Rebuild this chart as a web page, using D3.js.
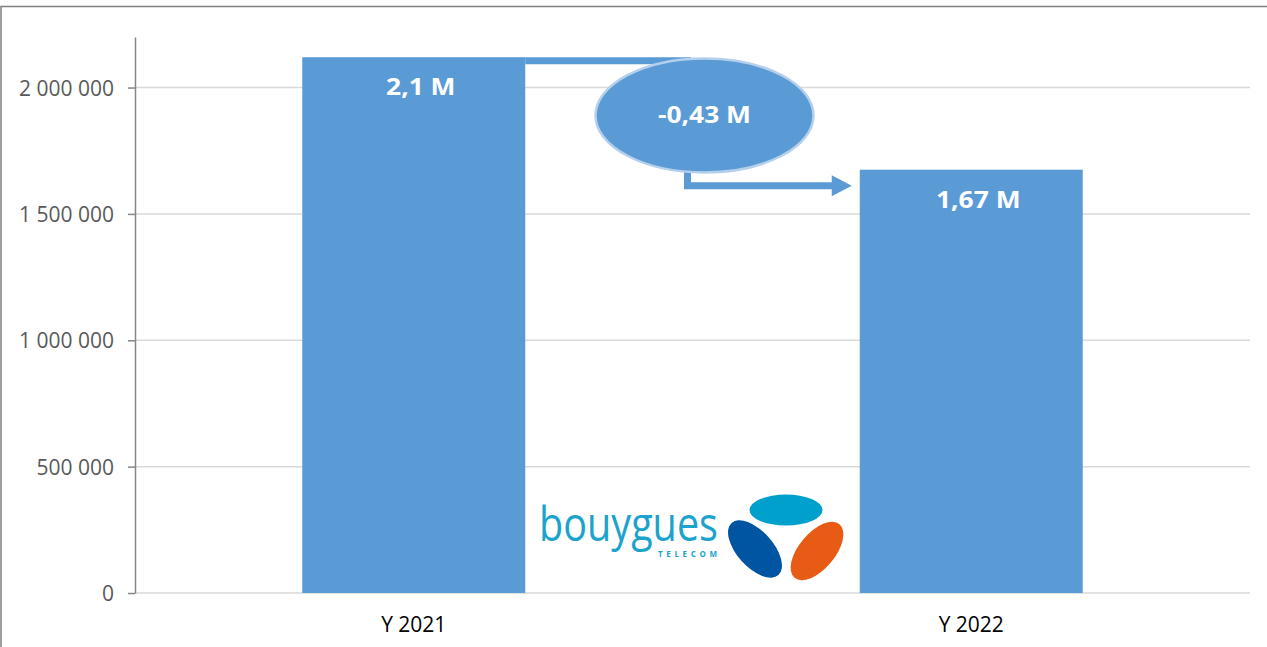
<!DOCTYPE html>
<html>
<head>
    <meta charset="UTF-8">
    <title>Bouygues Telecom - Y 2021 / Y 2022</title>
    <style>
        body {
            margin: 0;
            padding: 0;
            background-color: #ffffff;
            overflow: hidden;
        }
        text {
            font-family: "Open Sans", "Noto Sans", sans-serif;
        }
        .grid line {
            stroke: #d9d9d9;
            stroke-width: 1.5px;
        }
        .cat-label {
            fill: #000000;
            font-size: 21px;
            text-anchor: middle;
        }
        .bar {
            fill: #5b9bd5;
        }
        .bar-label {
            fill: #ffffff;
            font-size: 24px;
            font-weight: 700;
            text-anchor: middle;
        }
    </style>
    <script src="https://d3js.org/d3.v7.min.js"></script>
</head>
<body>
    <div id="chart"></div>

    <script>
        // data
        var categories = ["Y 2021", "Y 2022"];
        var values = [2120000, 1675000];
        var valueLabels = ["2,1 M", "1,67 M"];
        var deltaLabel = "-0,43 M";
        var yTicks = [0, 500000, 1000000, 1500000, 2000000];
        var yMax = 2200000;

        var W = 1267, H = 647;
        var plot = {left: 135, right: 1250, top: 37, bottom: 593};
        var blue = "#5b9bd5";

        var svg = d3.select("#chart").append("svg")
            .attr("width", W)
            .attr("height", H);

        // outer frame
        svg.append("rect")
            .attr("x", 1).attr("y", 6.5)
            .attr("width", W + 20).attr("height", H + 20)
            .attr("fill", "none")
            .attr("stroke", "#7f7f7f")
            .attr("stroke-width", 1.5);

        var x = d3.scaleBand()
            .domain(categories)
            .range([plot.left, plot.right])
            .paddingInner(0.6)
            .paddingOuter(0.3);

        var y = d3.scaleLinear()
            .domain([0, yMax])
            .range([plot.bottom, plot.top]);

        var fmt = d3.formatLocale({decimal: ",", thousands: " ", grouping: [3], currency: ["", ""]}).format(",");

        // gridlines
        svg.append("g")
            .attr("class", "grid")
            .selectAll("line")
            .data(yTicks)
            .enter().append("line")
            .attr("x1", plot.left)
            .attr("x2", plot.right)
            .attr("y1", function (d) { return y(d); })
            .attr("y2", function (d) { return y(d); });

        // y axis
        var yAxis = svg.append("g")
            .attr("transform", "translate(" + plot.left + ",0)")
            .call(d3.axisLeft(y).tickValues(yTicks).tickFormat(fmt).tickSize(7).tickSizeOuter(0).tickPadding(14));
        yAxis.select(".domain").attr("stroke", "#868686").attr("stroke-width", 1.5);
        yAxis.selectAll(".tick line").attr("stroke", "#868686").attr("stroke-width", 1.5);
        yAxis.selectAll(".tick text")
            .attr("dy", "0.36em")
            .attr("fill", "#595959")
            .style("font-size", "21px")
            .style("font-family", "'Open Sans', sans-serif");

        // category labels
        svg.selectAll(".cat-label")
            .data(categories)
            .enter().append("text")
            .attr("class", "cat-label")
            .attr("x", function (d) { return x(d) + x.bandwidth() / 2; })
            .attr("y", plot.bottom + 39)
            .text(function (d) { return d; });

        // connector (elbow) from bar 1 top to bar 2
        var x0 = x(categories[0]) + x.bandwidth();
        var x1 = x(categories[1]);
        var midX = (x0 + x1) / 2;
        var top0 = y(values[0]);
        var top1 = y(values[1]);
        var elbowX = midX - 5;
        var lowY = top1 + 16;

        svg.append("path")
            .attr("d", "M" + x0 + "," + (top0 + 3.5) + " H" + elbowX + " V" + lowY + " H" + (x1 - 27))
            .attr("fill", "none")
            .attr("stroke", blue)
            .attr("stroke-width", 7);

        svg.append("path")
            .attr("d", "M" + (x1 - 28) + "," + (lowY - 10.5) + " L" + (x1 - 8) + "," + lowY + " L" + (x1 - 28) + "," + (lowY + 10.5) + " Z")
            .attr("fill", blue);

        // bars
        svg.selectAll(".bar")
            .data(values)
            .enter().append("rect")
            .attr("class", "bar")
            .attr("x", function (d, i) { return x(categories[i]); })
            .attr("y", function (d) { return y(d); })
            .attr("width", x.bandwidth())
            .attr("height", function (d) { return y(0) - y(d); });

        // bar labels (a bit wider, Calibri-like)
        svg.selectAll(".bar-label")
            .data(values)
            .enter().append("text")
            .attr("class", "bar-label")
            .attr("transform", function (d, i) {
                return "translate(" + (x(categories[i]) + x.bandwidth() / 2 + 7) + "," + (y(d) + 38) + ") scale(1.1,1)";
            })
            .text(function (d, i) { return valueLabels[i]; });

        // delta bubble
        var cx = midX + 12, cy = (top0 + top1) / 2 + 2;
        svg.append("ellipse")
            .attr("cx", cx).attr("cy", cy)
            .attr("rx", 109).attr("ry", 57)
            .attr("fill", blue)
            .attr("stroke", "#b4d0ec")
            .attr("stroke-width", 2.5);

        svg.append("text")
            .attr("class", "bar-label")
            .attr("transform", "translate(" + cx + "," + (cy + 8) + ") scale(1.1,1)")
            .text(deltaLabel);

        // logo
        var logo = svg.append("g").attr("transform", "translate(539,541)");
        logo.append("text")
            .attr("x", 0).attr("y", 0)
            .attr("textLength", 179)
            .attr("lengthAdjust", "spacingAndGlyphs")
            .style("font-size", "47px")
            .style("font-weight", 400)
            .attr("fill", "#1ba3cc")
            .text("bouygues");
        logo.append("text")
            .attr("x", 119).attr("y", 16)
            .attr("textLength", 59)
            .attr("lengthAdjust", "spacing")
            .style("font-size", "8px")
            .style("font-weight", 700)
            .attr("fill", "#1ba3cc")
            .text("TELECOM");
        logo.append("ellipse")
            .attr("cx", 247).attr("cy", -31)
            .attr("rx", 36.5).attr("ry", 15.5)
            .attr("fill", "#00a0cc");
        logo.append("ellipse")
            .attr("transform", "translate(216,8) rotate(-42)")
            .attr("rx", 18).attr("ry", 35)
            .attr("fill", "#0055a3");
        logo.append("ellipse")
            .attr("transform", "translate(278,10) rotate(40)")
            .attr("rx", 18).attr("ry", 35)
            .attr("fill", "#e85b14");
    </script>
</body>
</html>
